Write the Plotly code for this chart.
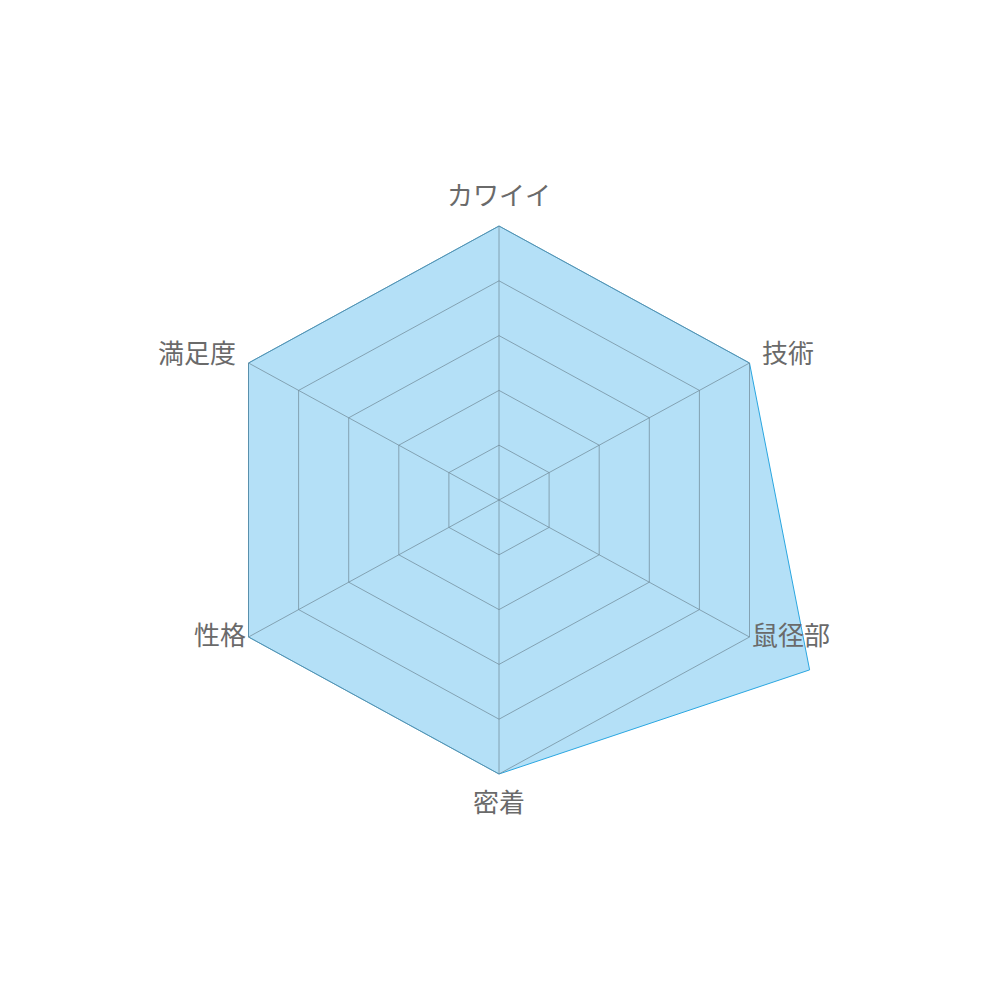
import math
import plotly.graph_objects as go

categories = ["カワイイ", "技術", "鼠径部", "密着", "性格", "満足度"]
values = [5, 5, 6.2, 5, 5, 5]
grid_levels = [1, 2, 3, 4, 5]
r_max = 5

n = len(categories)
angles = [2 * math.pi * i / n for i in range(n)]  # clockwise from top


def xy(r, a):
    return r * math.sin(a), r * math.cos(a)


fig = go.Figure()

# data polygon
px, py = zip(*[xy(v, a) for v, a in zip(values, angles)])
fig.add_trace(go.Scatter(
    x=list(px) + [px[0]], y=list(py) + [py[0]],
    mode="lines", fill="toself",
    fillcolor="rgba(140,208,243,0.65)",
    line=dict(color="#2aa6e0", width=1),
    showlegend=False,
))

grid_color = "rgba(110,135,150,0.7)"
for lv in grid_levels:
    gx, gy = zip(*[xy(lv, a) for a in angles])
    fig.add_trace(go.Scatter(
        x=list(gx) + [gx[0]], y=list(gy) + [gy[0]], mode="lines",
        line=dict(color=grid_color, width=1),
        hoverinfo="skip", showlegend=False,
    ))
for a in angles:
    sx, sy = xy(r_max, a)
    fig.add_trace(go.Scatter(
        x=[0, sx], y=[0, sy], mode="lines",
        line=dict(color=grid_color, width=1),
        hoverinfo="skip", showlegend=False,
    ))

# labels
label_r = [5.5, 5.25, 5.05, 5.58, 5.05, 5.25]
label_pos = ["middle center", "middle right", "middle right",
             "middle center", "middle left", "middle left"]
for c, rr, a, pos in zip(categories, label_r, angles, label_pos):
    lx, ly = xy(rr, a)
    fig.add_trace(go.Scatter(
        x=[lx], y=[ly], mode="text", text=[c], textposition=pos,
        textfont=dict(family="Noto Sans CJK JP", size=26, color="#6a6a6a"),
        hoverinfo="skip", showlegend=False, cliponaxis=False,
    ))

sx_px = 250.5 / (r_max * math.sin(math.pi / 3))
sy_px = 274 / r_max
cx_px, cy_px = 491, 492
fig.update_layout(
    width=1000, height=1000,
    margin=dict(l=0, r=0, t=0, b=0),
    paper_bgcolor="white", plot_bgcolor="white",
    xaxis=dict(range=[-cx_px / sx_px, (1000 - cx_px) / sx_px], visible=False),
    yaxis=dict(range=[-(1000 - cy_px) / sy_px, cy_px / sy_px], visible=False),
)

fig.write_html("out.html")
